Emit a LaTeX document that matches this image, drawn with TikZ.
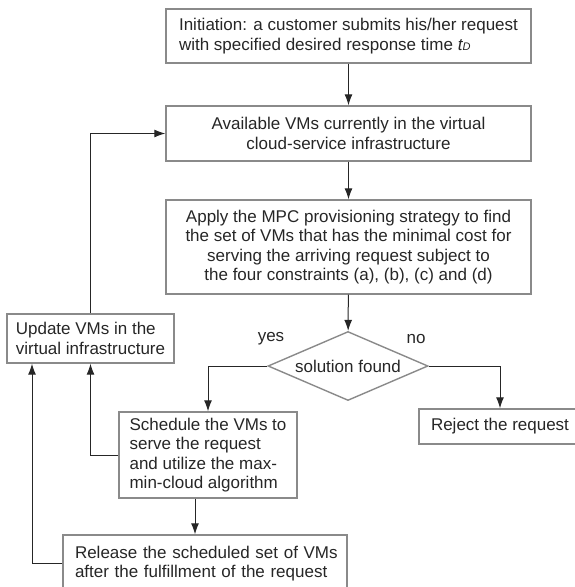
\documentclass[tikz,border=0pt]{standalone}
\usepackage{fontspec}
\setmainfont{Liberation Sans}
\usetikzlibrary{shapes.geometric,arrows.meta}
\definecolor{boxline}{HTML}{8A8A8A}
\definecolor{ink}{HTML}{262626}

\begin{document}
\begin{tikzpicture}[x=1pt, y=1pt,
    font=\fontsize{17}{19.5}\selectfont, text=ink,
    box/.style={draw=boxline, line width=1.4pt, rectangle, inner sep=0pt},
    decision/.style={draw=boxline, line width=1.4pt, diamond, aspect=2.3,
      inner sep=0pt, minimum width=160pt, minimum height=69pt},
    arr/.style={draw=ink, line width=1pt, -{Latex[length=11pt,width=8pt]}}]
  \useasboundingbox (0,0) rectangle (575,-587);

  \node[box, minimum width=365pt, minimum height=54pt, align=left] (init) at (348.5,-36)
    {Initiation: a customer submits his/her request\\
     with specified desired response time {\itshape t{\fontsize{11}{11}\selectfont D}}};
  \node[box, minimum width=365pt, minimum height=55pt, align=center] (avail) at (348.5,-133.5)
    {Available VMs currently in the virtual\\ cloud-service infrastructure};
  \node[box, minimum width=365pt, minimum height=94pt, align=center] (apply) at (348.5,-247)
    {Apply the MPC provisioning strategy to find\\
     the set of VMs that has the minimal cost for\\
     serving the arriving request subject to\\
     the four constraints (a), (b), (c) and (d)};
  \node[decision] (sol) at (348,-366) {solution found};
  \node (yes) at (271,-339) {yes};
  \node (no) at (416,-339) {no};
  \node[box, minimum width=178pt, minimum height=86pt, align=left] (sched) at (208,-455)
    {Schedule the VMs to\\ serve the request\\ and utilize the max-\\ min-cloud algorithm};
  \node[box, minimum width=162pt, minimum height=35pt, align=left] (reject) at (500,-426.5)
    {Reject the request};
  \node[box, minimum width=284pt, minimum height=57pt, text width=272pt,
    inner xsep=6pt, align=left] (release) at (205,-563.5)
    {\hspace*{6pt}Release the scheduled set of VMs\\
     \hspace*{6pt}after the fulfillment of the request};
  \node[box, minimum width=167pt, minimum height=49pt, align=left] (update) at (90.5,-338.5)
    {Update VMs in the\\ virtual infrastructure};

  \draw[arr] (init) -- (avail);
  \draw[arr] (avail) -- (apply);
  \draw[arr] (apply) -- (sol);
  \draw[arr] (sol.west) -| (sched.north);
  \draw[arr] (sol.east) -| (reject.north);
  \draw[arr] ([xshift=-13pt]sched.south) -- ([xshift=-13pt]sched.south |- release.north);
  \draw[arr] (sched.west) -| (update.south);
  \draw[arr] (release.west) -| ([xshift=-58.5pt]update.south);
  \draw[arr] (update.north) |- (avail.west);
\end{tikzpicture}
\end{document}
